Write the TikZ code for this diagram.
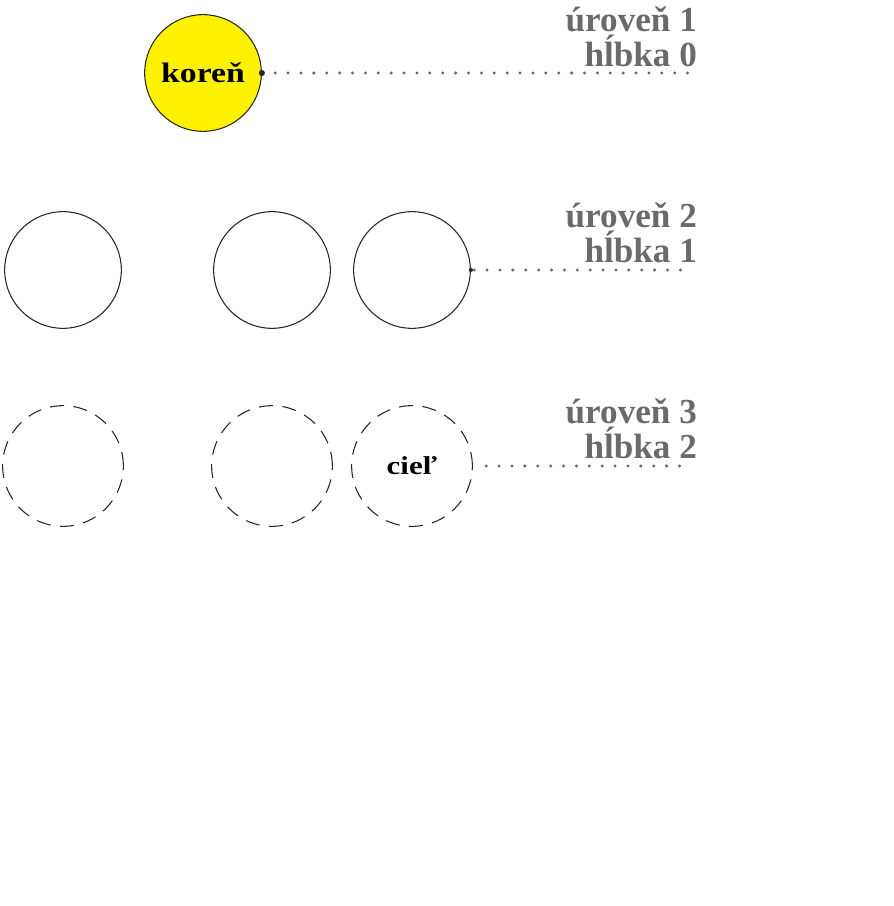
\documentclass[tikz,border=0pt]{standalone}
\usepackage{fontspec}
\setmainfont{Liberation Serif}
\newfontfamily\siroky[FakeStretch=1.2]{Liberation Serif}
\definecolor{levelgray}{HTML}{6A6A6A}
\tikzset{
  vrchol/.style={circle, draw=black!85, line width=0.9pt, minimum size=3.5cm, inner sep=0pt, font=\siroky\bfseries\fontsize{24}{28}\selectfont},
  tusenie/.style={vrchol, dashed, dash pattern=on 12pt off 8pt, minimum size=3.62cm, font=\siroky\bfseries\fontsize{22}{26}\selectfont},
  popis/.style={anchor=east, align=right, text=levelgray, font=\bfseries\fontsize{30}{29.5}\selectfont},
  bodky/.style={black!60, line width=2.8pt, line cap=round, dash pattern=on 0pt off 11pt}
}
\begin{document}
\begin{tikzpicture}[x=0.03cm, y=-0.03cm]
\useasboundingbox (0,0) rectangle (893,906);

\node[vrchol, fill=yellow] (root) at (203,73) {koreň};

\node[vrchol] (a1) at (63,270) {};
\node[vrchol] (a2) at (272,270) {};
\node[vrchol] (a3) at (412,270) {};

\node[tusenie] (b1) at (63,466) {};
\node[tusenie] (b2) at (272,466) {};
\node[tusenie] (b3) at (412,466) {cieľ};

\node[popis] (u1) at (701,37) {úroveň 1\\hĺbka 0};
\node[popis] (u2) at (701,233) {úroveň 2\\hĺbka 1};
\node[popis] (u3) at (701,429) {úroveň 3\\hĺbka 2};

\coordinate (k1) at (690,73);
\coordinate (k2) at (690,270);
\coordinate (k3) at (690,466);

\fill[black!85] (root.east) circle (2.6pt);
\fill[black!85] (a3.east) circle (1.8pt);
\draw[bodky] ([xshift=0.4cm]root.east) -- (k1);
\draw[bodky] ([xshift=0.1cm]a3.east) -- (k2);
\draw[bodky] ([xshift=0.4cm]b3.east) -- (k3);
\end{tikzpicture}
\end{document}
